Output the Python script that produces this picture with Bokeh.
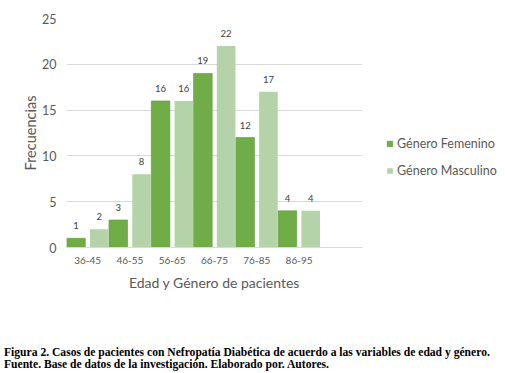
from bokeh.plotting import figure
from bokeh.models import ColumnDataSource, FactorRange, Range1d, FixedTicker, Legend, LegendItem, LabelSet, Div
from bokeh.layouts import column, row
from bokeh.transform import dodge
from bokeh.embed import file_html
from bokeh.resources import INLINE
from bokeh.core.properties import value

categories = ["36-45", "46-55", "56-65", "66-75", "76-85", "86-95"]
femenino = [1, 3, 16, 19, 12, 4]
masculino = [2, 8, 16, 22, 17, 4]
series_names = ["Género Femenino", "Género Masculino"]
y_ticks = [0, 5, 10, 15, 20, 25]
caption_lines = [
    "Figura 2. Casos de pacientes con Nefropatía Diabética de acuerdo a las variables de edad y género.",
    "Fuente. Base de datos de la investigación. Elaborado por. Autores.",
]

F_COLOR = "#70AD47"
M_COLOR = "#B5D3A8"
TXT = "#595959"
FONT = "Lato"

src = ColumnDataSource(dict(cat=categories, f=femenino, m=masculino,
                            fl=[str(v) for v in femenino], ml=[str(v) for v in masculino]))

factors = categories + [" "]
H = 320
W1 = 366
p = figure(x_range=FactorRange(factors=factors), y_range=Range1d(0, 25),
           width=W1, height=H, output_backend="svg", toolbar_location=None,
           min_border_left=66, min_border_right=W1 - 362, min_border_top=18,
           min_border_bottom=int(H - 246.5))
p.outline_line_color = None
p.background_fill_color = "white"

rf = p.vbar(x=dodge("cat", -0.275, range=p.x_range), top="f", width=0.44, source=src,
            fill_color=F_COLOR, line_color="#5E9A39", line_width=0.6)
rm = p.vbar(x=dodge("cat", 0.275, range=p.x_range), top="m", width=0.44, source=src,
            fill_color=M_COLOR, line_color=None)

for col, lab, off in (("f", "fl", -0.275), ("m", "ml", 0.275)):
    ls = LabelSet(x=dodge("cat", off, range=p.x_range), y=col, text=lab, source=src,
                  text_align="center", text_baseline="bottom", y_offset=9,
                  text_font=value(FONT), text_font_size="9.5px", text_color="#404040")
    p.add_layout(ls)

p.yaxis.ticker = FixedTicker(ticks=y_ticks)
p.ygrid.ticker = FixedTicker(ticks=y_ticks)
p.ygrid.grid_line_color = "#D9D9D9"
p.xgrid.grid_line_color = None
p.yaxis.axis_line_color = None
p.yaxis.major_tick_line_color = None
p.yaxis.minor_tick_line_color = None
p.yaxis.major_label_standoff = 4
p.yaxis.major_label_text_font = FONT
p.yaxis.major_label_text_font_size = "12.5px"
p.yaxis.major_label_text_color = TXT
p.yaxis.axis_label = "Frecuencias"
p.yaxis.axis_label_text_font = FONT
p.yaxis.axis_label_text_font_size = "14.5px"
p.yaxis.axis_label_text_font_style = "normal"
p.yaxis.axis_label_text_color = TXT
p.yaxis.axis_label_standoff = 0

p.xaxis.axis_line_color = "#D9D9D9"
p.xaxis.major_tick_line_color = None
p.xaxis.minor_tick_line_color = None
p.xaxis.major_label_standoff = 0
p.xaxis.major_label_text_font = FONT
p.xaxis.major_label_text_font_size = "10px"
p.xaxis.major_label_text_color = TXT
p.xaxis.axis_label = "Edad y Género de pacientes"
p.xaxis.axis_label_text_font = FONT
p.xaxis.axis_label_text_font_size = "14px"
p.xaxis.axis_label_text_font_style = "normal"
p.xaxis.axis_label_text_color = TXT
p.xaxis.axis_label_standoff = 5

# legend panel as its own small figure; its key renderers are degenerate
# (zero-size) copies of the series, kept off-screen, used only for the swatches
W2 = 505 - W1
lp = figure(width=W2, height=H, x_range=Range1d(-2, -1), y_range=Range1d(-2, -1),
            x_axis_type=None, y_axis_type=None, output_backend="svg", toolbar_location=None,
            min_border=0, outline_line_color=None)
lp.grid.visible = False
kf = lp.vbar(x="f", top="f", bottom="f", width=0, source=src,
             fill_color=F_COLOR, line_color="#5E9A39", line_width=0.6)
km = lp.vbar(x="m", top="m", bottom="m", width=0, source=src,
             fill_color=M_COLOR, line_color=None)
legend = Legend(items=[LegendItem(label=series_names[0], renderers=[kf]),
                       LegendItem(label=series_names[1], renderers=[km])],
                location=(386 - W1, 69), orientation="vertical",
                glyph_width=7, glyph_height=7, label_standoff=4,
                label_height=14, spacing=12, padding=0, margin=0,
                border_line_color=None, background_fill_alpha=0,
                label_text_font=FONT, label_text_font_size="12.5px", label_text_color=TXT)
lp.add_layout(legend, "center")

caption = Div(text="<br>".join(caption_lines), width=505, margin=(27, 0, 0, 4),
              styles={"font-family": "'Liberation Serif', serif", "font-weight": "bold",
                      "font-size": "11.6px", "line-height": "11.5px", "color": "black",
                      "white-space": "nowrap"})

layout = column(row(p, lp, spacing=0), caption, spacing=0)
open("out.html", "w").write(file_html(layout, INLINE))
